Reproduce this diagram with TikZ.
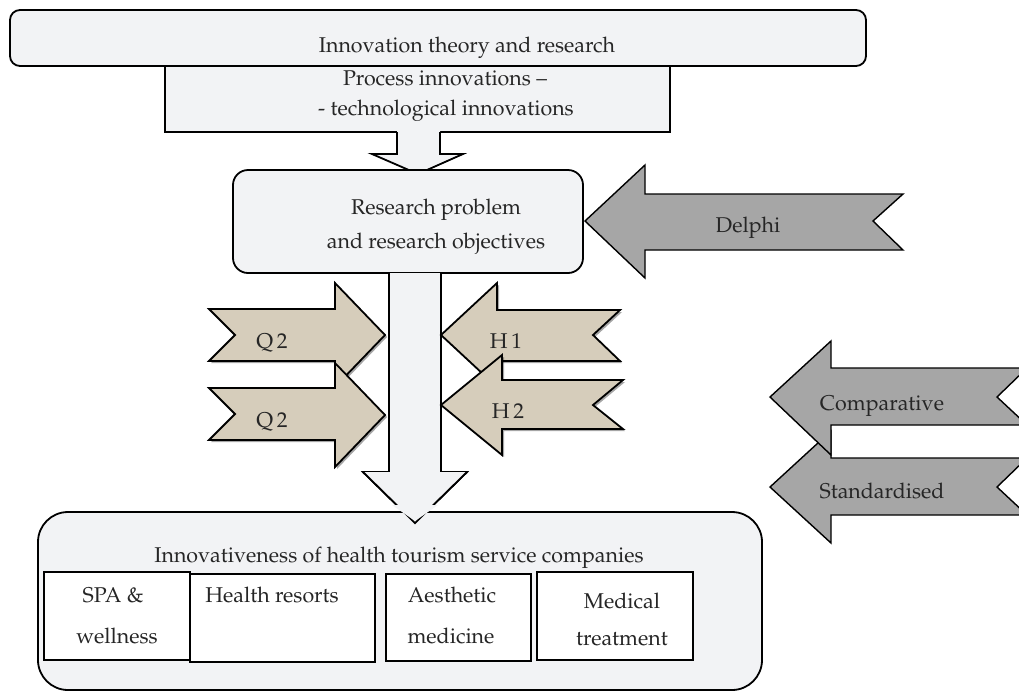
\documentclass[tikz,border=0pt]{standalone}
\usepackage[T1]{fontenc}
\usepackage{mathpazo}
\usetikzlibrary{shadows}
\definecolor{boxfill}{HTML}{F2F3F5}
\definecolor{darrow}{HTML}{A6A6A6}
\definecolor{beige}{HTML}{D6CDBB}
\definecolor{ink}{HTML}{262626}
\begin{document}
\begin{tikzpicture}[x=0.5pt,y=-0.5pt,line join=miter,
  txt/.style={anchor=base,inner sep=0pt,text=ink,font=\fontsize{10.7}{12}\selectfont},
  blk/.style={draw=black,line width=0.9pt,fill=boxfill},
  qarrow/.style={draw=black,line width=0.9pt,fill=beige,
    drop shadow={shadow xshift=1pt,shadow yshift=-1pt,opacity=0.35,fill=black}},
  garrow/.style={draw=black,line width=0.7pt,fill=darrow},
  ibox/.style={draw=black,line width=0.55pt,fill=white}]
\fill[white] (0,0) rectangle (1019,693);
\useasboundingbox (0,0) rectangle (1019,693);
\clip (0,0) rectangle (1019,693);

% process box and top box
\draw[blk] (165,66) rectangle (670,132);
\draw[blk,rounded corners=5pt] (10,10) rectangle (866,66);
\node[txt] (top) at (467,52) {Innovation theory and research};
\node[txt] (proc1) at (445,85) {Process innovations --};
\node[txt] (proc2) at (446,115) {- technological innovations};

% small down arrow
\fill[boxfill] (397,131) -- (397,154) -- (372,154) -- (418,174) -- (463,154) -- (440,154) -- (440,131) -- cycle;
\draw[line width=0.9pt] (397,132) -- (397,154) -- (372,154) -- (418,174) -- (463,154) -- (440,154) -- (440,132);

% research box
\draw[blk,rounded corners=7.5pt] (233,170) rectangle (583,273);
\node[txt] (rp1) at (436,214) {Research problem};
\node[txt] (rp2) at (436,248) {and research objectives};

% Delphi arrow
\draw[garrow] (903,194) -- (645,194) -- (645,165) -- (585,221) -- (645,278) -- (645,250) -- (903,250) -- (873,221) -- cycle;
\node[txt] (delphi) at (748,232) {Delphi};

% main vertical arrow
\draw[blk] (389,273) -- (389,472) -- (363,472) -- (415,523) -- (467,472) -- (441,472) -- (441,273);

% bottom box
\draw[blk,rounded corners=15pt] (38,512) rectangle (762,690);
\draw[line width=0.9pt,fill=boxfill] (363,472) -- (415,523) -- (467,472);
\fill[boxfill] (392,505) -- (438,505) -- (415,521) -- cycle;
\node[txt] (inn) at (399,562) {Innovativeness of health tourism service companies};

\draw[ibox] (44,572) rectangle (190,660);
\draw[ibox] (190,574) rectangle (375,662);
\draw[ibox] (386,574) rectangle (531,661);
\draw[ibox] (537,572) rectangle (693,660);
\node[txt] (spa1) at (113,602) {SPA \&};
\node[txt] (spa2) at (117,643) {wellness};
\node[txt] (hr) at (272,602) {Health resorts};
\node[txt] (ae1) at (452,602) {Aesthetic};
\node[txt] (ae2) at (451,643) {medicine};
\node[txt] (me1) at (622,608) {Medical};
\node[txt] (me2) at (622,645) {treatment};

% Q arrows
\draw[qarrow] (209,309) -- (335,309) -- (335,283) -- (385,335) -- (335,387) -- (335,361) -- (209,361) -- (235,335) -- cycle;
\node[txt] (q1) at (272,348) {Q\,2};
\draw[qarrow] (209,388) -- (335,388) -- (335,363) -- (385,415) -- (335,467) -- (335,440) -- (209,440) -- (235,414) -- cycle;
\node[txt] (q2) at (272,427) {Q\,2};

% H arrows
\draw[qarrow] (620,310) -- (497,310) -- (497,283) -- (441,335) -- (497,387) -- (497,361) -- (620,361) -- (593,335) -- cycle;
\node[txt] (h1) at (506,348) {H\,1};
\draw[qarrow] (623,380) -- (502,380) -- (502,355) -- (441,405) -- (502,455) -- (502,429) -- (623,429) -- (593,405) -- cycle;
\node[txt] (h2) at (508,418) {H\,2};

% Comparative / Standardised arrows
\draw[garrow] (1027,458) -- (831,458) -- (831,431) -- (770,487) -- (831,543) -- (831,515) -- (1027,515) -- (997,487) -- cycle;
\node[txt] (std) at (882,498) {Standardised};
\draw[garrow] (1027,368) -- (831,368) -- (831,341) -- (770,397) -- (831,455) -- (831,425) -- (1027,425) -- (997,397) -- cycle;
\node[txt] (cmp) at (882,410) {Comparative};
\end{tikzpicture}
\end{document}
